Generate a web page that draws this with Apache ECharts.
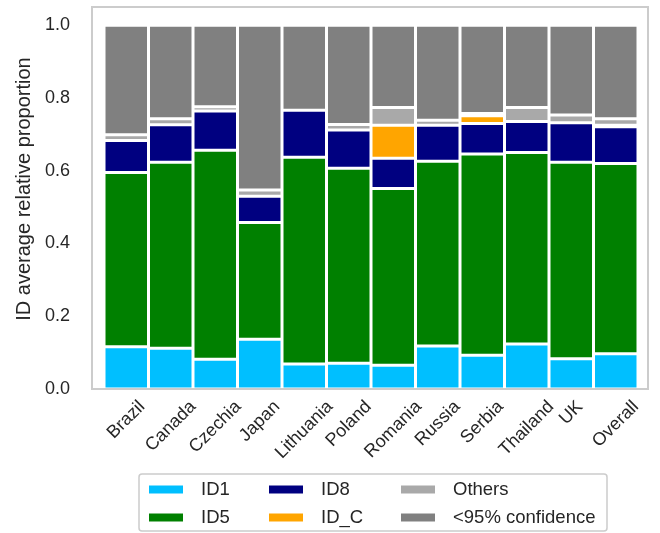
<!DOCTYPE html>
<html>
<head>
<meta charset="utf-8">
<script src="https://cdn.jsdelivr.net/npm/echarts@6/dist/echarts.min.js"></script>
<style>
  html, body { margin: 0; padding: 0; background: #fff; }
  #chart { width: 660px; height: 533px; }
</style>
</head>
<body>
<div id="chart"></div>
<script>
// Countries (plus the pooled "Overall" column)
const categories = ['Brazil', 'Canada', 'Czechia', 'Japan', 'Lithuania', 'Poland',
  'Romania', 'Russia', 'Serbia', 'Thailand', 'UK', 'Overall'];

// Average relative proportion of each ID, stacked bottom to top
const id1Values    = [0.116, 0.112, 0.082, 0.137, 0.069, 0.071, 0.065, 0.118, 0.093, 0.124, 0.083, 0.097];
const id5Values    = [0.479, 0.511, 0.574, 0.321, 0.568, 0.536, 0.486, 0.508, 0.553, 0.526, 0.540, 0.523];
const id8Values    = [0.088, 0.103, 0.108, 0.072, 0.129, 0.105, 0.083, 0.099, 0.084, 0.085, 0.109, 0.101];
const idCValues    = [0, 0, 0, 0, 0, 0, 0.091, 0, 0.021, 0, 0, 0.004];
const othersValues = [0.016, 0.017, 0.012, 0.017, 0, 0.015, 0.049, 0.014, 0.006, 0.039, 0.021, 0.018];
const lowConfValues = [0.301, 0.257, 0.224, 0.453, 0.234, 0.273, 0.226, 0.261, 0.243, 0.226, 0.247, 0.257];

// Y axis tick labels
const yTicks = [0, 0.2, 0.4, 0.6, 0.8, 1.0];

const yAxisTitle = 'ID average relative proportion';

const FONT = '"Liberation Sans", Arial, Helvetica, sans-serif';
const TICK_SIZE = 18;
const LEGEND_SIZE = 18.5;
const TITLE_SIZE = 20;
const TEXT_COLOR = '#262626';

const seriesDefs = [
  { name: 'ID1', data: id1Values, color: '#00bfff' },
  { name: 'ID5', data: id5Values, color: '#008000' },
  { name: 'ID8', data: id8Values, color: '#000080' },
  { name: 'ID_C', data: idCValues, color: '#ffa500' },
  { name: 'Others', data: othersValues, color: '#a9a9a9' },
  { name: '<95% confidence', data: lowConfValues, color: '#808080' }
];

const barSeries = seriesDefs.map(s => ({
  name: s.name,
  type: 'bar',
  stack: 'total',
  barWidth: '100%',
  data: s.data,
  itemStyle: { color: s.color, borderColor: '#ffffff', borderWidth: 1.5 },
  emphasis: { disabled: true }
}));

// Rotated category labels, centred under each bar with their tops aligned
const measureCtx = document.createElement('canvas').getContext('2d');
measureCtx.font = TICK_SIZE + 'px ' + FONT;
const LABEL_PAD = 8;
const LABEL_H = TICK_SIZE * 1.1;

const labelSeries = {
  type: 'custom',
  silent: true,
  clip: false,
  z: 10,
  encode: { x: 0, y: 1 },
  data: categories.map((c, i) => [i, 0]),
  renderItem: function (params, api) {
    const idx = api.value(0);
    const p = api.coord([idx, 0]);
    const text = categories[idx];
    const L = measureCtx.measureText(text).width;
    const half = (L + LABEL_H) * Math.SQRT1_2 / 2;
    return {
      type: 'text',
      x: p[0],
      y: p[1] + LABEL_PAD + half,
      rotation: Math.PI / 4,
      style: {
        text: text,
        font: TICK_SIZE + 'px ' + FONT,
        fill: TEXT_COLOR,
        align: 'center',
        verticalAlign: 'middle'
      }
    };
  }
};

const legendCommon = {
  orient: 'vertical',
  top: 480,
  icon: 'rect',
  itemWidth: 36,
  itemHeight: 10,
  itemGap: 9,
  padding: 0,
  selectedMode: false,
  textStyle: {
    fontFamily: FONT,
    fontSize: LEGEND_SIZE,
    lineHeight: 17,
    color: TEXT_COLOR,
    padding: [0, 0, 0, 12]
  }
};

const chart = echarts.init(document.getElementById('chart'), null, { renderer: 'canvas' });
chart.setOption({
  animation: false,
  backgroundColor: '#ffffff',
  grid: { left: 104, right: 22, top: 7, bottom: 144, containLabel: false },
  xAxis: {
    type: 'category',
    data: categories,
    boundaryGap: true,
    axisLine: { show: false },
    axisTick: { show: false },
    axisLabel: { show: false },
    splitLine: { show: false }
  },
  yAxis: {
    type: 'value',
    min: 0,
    max: 1.05,
    axisLine: { show: false },
    axisTick: { show: false },
    splitLine: { show: false },
    axisLabel: {
      customValues: yTicks,
      formatter: v => v.toFixed(1),
      margin: 34,
      fontFamily: FONT,
      fontSize: TICK_SIZE,
      color: TEXT_COLOR
    }
  },
  legend: [
    Object.assign({}, legendCommon, { left: 147, data: ['ID1', 'ID5'] }),
    Object.assign({}, legendCommon, { left: 267, data: ['ID8', 'ID_C'] }),
    Object.assign({}, legendCommon, { left: 399, data: ['Others', '<95% confidence'] })
  ],
  graphic: [
    {
      type: 'rect',
      z: 100,
      silent: true,
      shape: { x: 92, y: 7, width: 556, height: 382 },
      style: { fill: 'none', stroke: '#cccccc', lineWidth: 2 }
    },
    {
      type: 'rect',
      z: -1,
      silent: true,
      shape: { x: 139, y: 474, width: 468, height: 57, r: 3 },
      style: { fill: '#ffffff', stroke: '#cccccc', lineWidth: 1.5 }
    },
    {
      type: 'text',
      silent: true,
      x: 24,
      y: 189,
      rotation: Math.PI / 2,
      style: {
        text: yAxisTitle,
        font: TITLE_SIZE + 'px ' + FONT,
        fill: TEXT_COLOR,
        align: 'center',
        verticalAlign: 'middle'
      }
    }
  ],
  series: barSeries.concat([labelSeries])
});
</script>
</body>
</html>
